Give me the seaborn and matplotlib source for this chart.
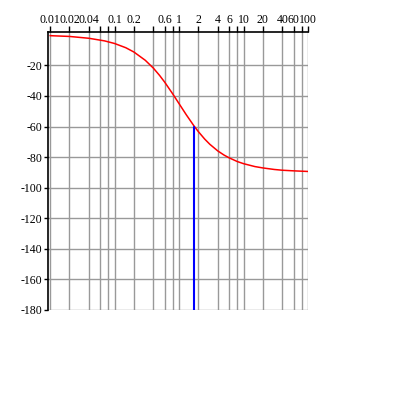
"""Phase plot of a first-order lag, log frequency axis on top."""

import matplotlib
matplotlib.use("Agg")
import matplotlib.pyplot as plt
import matplotlib.ticker as mticker
import pandas as pd
import seaborn as sns

# phase curve
freq = [0.01, 0.02, 0.04, 0.07, 0.1, 0.15, 0.2, 0.3, 0.4, 0.5, 0.6, 0.8, 1.0,
        1.3, 1.7, 2.0, 2.5, 3.0, 4.0, 5.0, 6.0, 8.0, 10, 15, 20, 30, 40, 60, 100]
phase = [-0.6, -1.1, -2.3, -4.0, -5.7, -8.5, -11.3, -16.7, -21.8, -26.6, -31.0,
         -38.7, -45.0, -52.4, -59.5, -63.4, -68.2, -71.6, -76.0, -78.7, -80.5,
         -82.9, -84.3, -86.2, -87.1, -88.1, -88.6, -89.0, -89.4]

# blue marker line at the -60 degree crossing
marker_x = [1.73, 1.73]
marker_y = [-60, -180]

# x grid positions and the ones that carry a label
x_grid = [0.01, 0.02, 0.04, 0.06, 0.08, 0.1, 0.2, 0.4, 0.6, 0.8, 1,
          2, 4, 6, 8, 10, 20, 40, 60, 80, 100]
x_labels = {0.01: "0.01", 0.02: "0.02", 0.04: "0.04", 0.1: "0.1", 0.2: "0.2",
            0.6: "0.6", 1: "1", 2: "2", 4: "4", 6: "6", 10: "10", 20: "20",
            40: "40", 60: "60", 100: "100"}
y_ticks = [-20, -40, -60, -80, -100, -120, -140, -160, -180]

sns.set_theme(style="white")
plt.rcParams["font.family"] = ["Liberation Serif", "DejaVu Serif"]

fig = plt.figure(figsize=(3.95, 3.95), dpi=100)
ax = fig.add_axes([48 / 395, 85 / 395, 260 / 395, 278 / 395])

curve = pd.DataFrame({"freq": freq, "phase": phase})
marker = pd.DataFrame({"x": marker_x, "y": marker_y})

ax.set_xscale("log")
sns.lineplot(data=curve, x="freq", y="phase", color="red", linewidth=1.1,
             estimator=None, errorbar=None, ax=ax, zorder=3)
sns.lineplot(data=marker, x="x", y="y", sort=False, color="blue",
             linewidth=1.5, estimator=None, errorbar=None, ax=ax, zorder=3)

ax.set_xlim(10 ** (-2 - 2 / 64.5), 100)
ax.set_ylim(-180, 1.8)

ax.xaxis.tick_top()
ax.xaxis.set_major_locator(mticker.FixedLocator(x_grid))
ax.xaxis.set_minor_locator(mticker.NullLocator())
ax.xaxis.set_major_formatter(
    mticker.FuncFormatter(lambda v, _: x_labels.get(round(v, 4), "")))
ax.set_yticks(y_ticks)
ax.set_yticklabels([str(v) for v in y_ticks])

ax.grid(True, color="#999999", linewidth=1)
ax.tick_params(axis="x", top=True, bottom=False, direction="out", length=4,
               width=1, pad=0.5, labelsize=8.5, colors="black")
ax.tick_params(axis="y", left=True, direction="out", length=3, width=1,
               pad=1, labelsize=8.5, colors="black")

for side in ["right", "bottom"]:
    ax.spines[side].set_visible(False)
for side in ["top", "left"]:
    ax.spines[side].set_color("black")
    ax.spines[side].set_linewidth(1.2)

ax.set_xlabel("")
ax.set_ylabel("")

fig.savefig("out.png", dpi=100)
